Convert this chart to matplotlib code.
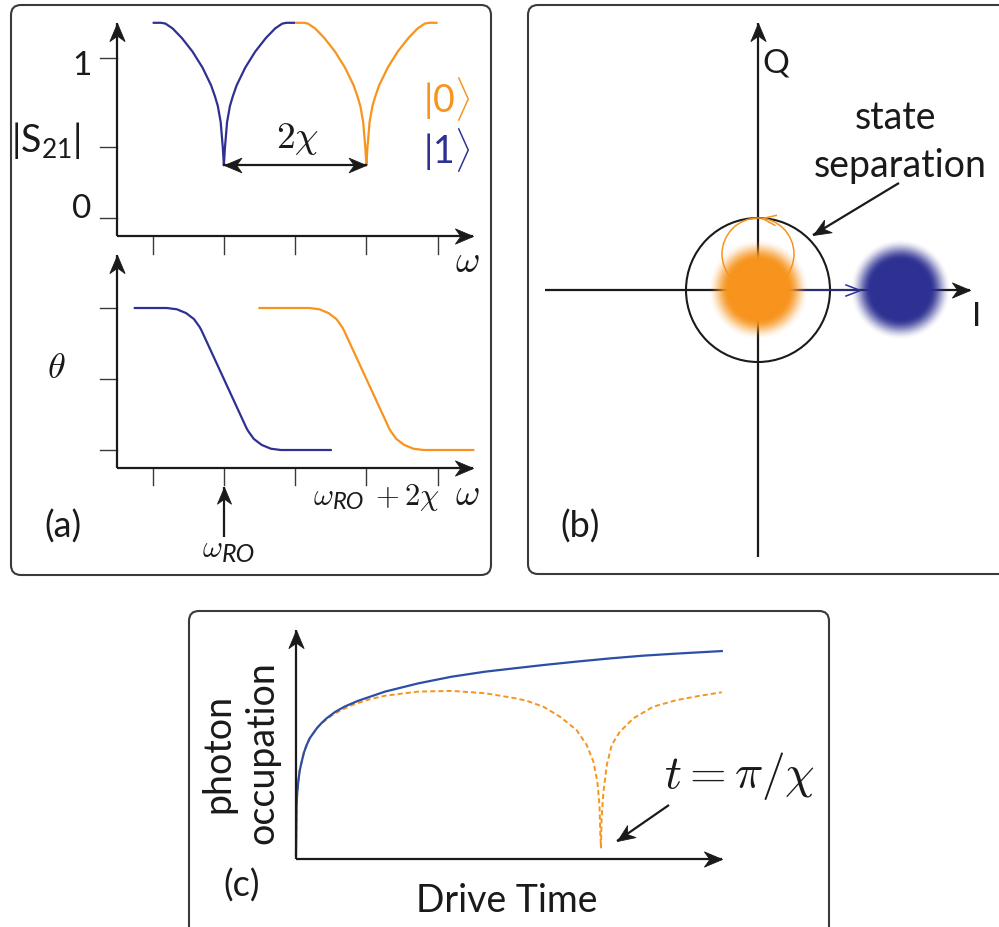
import numpy as np
import matplotlib
matplotlib.use('Agg')
import matplotlib.pyplot as plt
from matplotlib.patches import FancyBboxPatch, Circle
from matplotlib.markers import MarkerStyle
from matplotlib.path import Path
from matplotlib.transforms import Affine2D

W, H = 999, 927
plt.rcParams['font.family'] = ['Lato', 'DejaVu Sans']
plt.rcParams['mathtext.fontset'] = 'cm'
plt.rcParams['mathtext.rm'] = 'Lato'
plt.rcParams['mathtext.it'] = 'Lato:italic'
plt.rcParams['mathtext.sf'] = 'Lato'
plt.rcParams['mathtext.fallback'] = 'cm'

BLUE = '#2E3192'
ORANGE = '#F7941D'
BLUE_C = '#2D4EA6'
INK = '#1a1a1a'
GRAY = '#3a3a3a'

# ---------------- data ----------------
# (a) top: |S21| vs omega (tick units), state |1> (blue) and |0> (orange)
s21_blue_w = [0.50, 0.62, 0.68, 0.78, 0.91, 1.06, 1.20, 1.32, 1.375, 1.415, 1.455, 1.485, 1.50,
              1.515, 1.545, 1.585, 1.625, 1.68, 1.80, 1.94, 2.09, 2.22, 2.32, 2.38, 2.50]
s21_blue_v = [1.22, 1.22, 1.215, 1.185, 1.125, 1.04, 0.94, 0.83, 0.76, 0.70, 0.60, 0.44, 0.33,
              0.44, 0.60, 0.70, 0.76, 0.83, 0.94, 1.04, 1.125, 1.185, 1.215, 1.22, 1.22]
s21_orange_w = [2.50, 2.62, 2.68, 2.78, 2.91, 3.06, 3.20, 3.32, 3.375, 3.415, 3.455, 3.485, 3.50,
                3.515, 3.545, 3.585, 3.625, 3.68, 3.80, 3.94, 4.09, 4.22, 4.32, 4.38, 4.50]
s21_orange_v = s21_blue_v[:]
s21_ticks_y = [0.0, 0.444, 1.0]
omega_ticks = [0.5, 1.5, 2.5, 3.5, 4.5]
omega_ro = 1.5
two_chi = 2.0

# (a) bottom: phase theta
theta_blue_w = [0.25, 0.70, 0.84, 0.97, 1.08, 1.16, 1.185, 1.815, 1.84, 1.92, 2.03, 2.16, 2.30, 3.00]
theta_blue_v = [1.0, 1.0, 0.991, 0.964, 0.922, 0.866, 0.843, 0.157, 0.134, 0.078, 0.036, 0.009, 0.0, 0.0]
theta_orange_w = [2.00, 2.70, 2.84, 2.97, 3.08, 3.16, 3.185, 3.815, 3.84, 3.92, 4.03, 4.16, 4.30, 5.00]
theta_orange_v = theta_blue_v[:]
theta_ticks_y = [0.0, 0.5, 1.0]

# (b) IQ plane
blob_centers_I = [0.0, 1.97]
blob_centers_Q = [0.0, 0.0]
blob_colors = [ORANGE, BLUE]
sep_circle_r = 1.0
loop_center = (0.0, 0.5)
loop_r = 0.5
blue_vec_end = 1.42

# (c) photon occupation vs drive time (t in units of pi/chi)
occ_blue_t = [0.0, 0.001, 0.002, 0.004, 0.0075, 0.012, 0.0187, 0.026, 0.035, 0.045, 0.057, 0.070,
              0.084, 0.100, 0.128, 0.160, 0.204, 0.292, 0.401, 0.510,
              0.620, 0.718, 0.811, 0.920, 1.030, 1.139, 1.248, 1.396]
occ_blue_n = [0.017, 0.13, 0.236, 0.29, 0.338, 0.385, 0.425, 0.465, 0.498, 0.527, 0.550, 0.574,
              0.594, 0.614, 0.642, 0.666, 0.691, 0.731, 0.767, 0.796,
              0.818, 0.833, 0.847, 0.862, 0.876, 0.888, 0.897, 0.908]
occ_orange_t = [0.0, 0.001, 0.002, 0.004, 0.0075, 0.012, 0.0187, 0.026, 0.035, 0.045, 0.057, 0.070,
                0.084, 0.100, 0.128, 0.183, 0.240, 0.292, 0.401, 0.510,
                0.620, 0.718, 0.756, 0.811, 0.866, 0.920, 0.953, 0.975, 0.988, 0.995, 0.998, 1.0,
                1.002, 1.008, 1.019, 1.035, 1.062, 1.106, 1.171, 1.248, 1.325, 1.396]
occ_orange_n = [0.017, 0.13, 0.236, 0.29, 0.338, 0.385, 0.425, 0.465, 0.498, 0.527, 0.550, 0.573,
                0.592, 0.610, 0.636, 0.672, 0.697, 0.713, 0.731, 0.734,
                0.724, 0.702, 0.691, 0.665, 0.621, 0.563, 0.498, 0.425, 0.338, 0.236, 0.100, 0.05,
                0.178, 0.294, 0.410, 0.498, 0.556, 0.614, 0.665, 0.694, 0.713, 0.728]

# ---------------- figure ----------------
fig = plt.figure(figsize=(W / 100, H / 100), dpi=100)
bg = fig.add_axes([0, 0, 1, 1])
bg.set_xlim(0, W)
bg.set_ylim(H, 0)
bg.axis('off')


def panel_axes(px0, px1, py0, py1, fx, fy):
    ax = fig.add_axes([px0 / W, 1 - py1 / H, (px1 - px0) / W, (py1 - py0) / H])
    ax.set_xlim(fx(px0), fx(px1))
    ax.set_ylim(fy(py1), fy(py0))
    ax.axis('off')
    return ax


STEALTH = Path([(0, 0), (-1, 0.42), (-0.70, 0), (-1, -0.42), (0, 0)],
               [Path.MOVETO, Path.LINETO, Path.LINETO, Path.LINETO, Path.CLOSEPOLY])
CHEVRON = Path([(-1, 0.38), (0, 0), (-1, -0.38)], [Path.MOVETO, Path.LINETO, Path.LINETO])


def head(ax, x, y, ang, size=26, color=INK, path=STEALTH, filled=True, lw=1.2, z=5):
    m = MarkerStyle(path, transform=Affine2D().rotate_deg(ang))
    ax.plot([x], [y], marker=m, markersize=size, linestyle='none',
            mfc=color if filled else 'none', mec=color, mew=(0.6 if filled else lw),
            clip_on=False, zorder=z)


def arrow(ax, x0, y0, x1, y1, size=26, color=INK, lw=1.6, path=STEALTH, filled=True, z=5):
    ax.plot([x0, x1], [y0, y1], color=color, lw=lw, clip_on=False, zorder=z, solid_capstyle='butt')
    p0 = ax.transData.transform((x0, y0))
    p1 = ax.transData.transform((x1, y1))
    ang = np.degrees(np.arctan2(p1[1] - p0[1], p1[0] - p0[0]))
    head(ax, x1, y1, ang, size=size, color=color, path=path, filled=filled, lw=lw, z=z)


# boxes
for (x0, y0, x1, y1) in [(11, 5, 491, 575), (528, 5, 1010, 574), (189, 611, 829, 940)]:
    bg.add_patch(FancyBboxPatch((x0, y0), x1 - x0, y1 - y0,
                                boxstyle='round,pad=0,rounding_size=10',
                                fc='none', ec=GRAY, lw=1.5))

# ---------- panel (a) top ----------
fx_a = lambda p: (p - 117) / 71.25
fy_at = lambda p: (218 - p) / 160
axt = panel_axes(11, 491, 5, 245, fx_a, fy_at)
y_ax_t = fy_at(236)
arrow(axt, 0, y_ax_t, 0, fy_at(23))
arrow(axt, 0, y_ax_t, 5.0, y_ax_t)
for yt in s21_ticks_y:
    axt.plot([-0.24, 0], [yt, yt], color=GRAY, lw=1.0, clip_on=False)
for xt in omega_ticks:
    axt.plot([xt, xt], [y_ax_t, y_ax_t - 0.1125], color=GRAY, lw=1.0, clip_on=False)
axt.plot(s21_blue_w, s21_blue_v, color=BLUE, lw=1.6, clip_on=False, solid_capstyle='butt')
axt.plot(s21_orange_w, s21_orange_v, color=ORANGE, lw=1.6, clip_on=False, solid_capstyle='butt')
# 2 chi double arrow
ymin_dip = min(s21_blue_v)
axt.plot([omega_ro, omega_ro + two_chi], [ymin_dip, ymin_dip], color=INK, lw=1.6, clip_on=False)
head(axt, omega_ro, ymin_dip, 180, size=25)
head(axt, omega_ro + two_chi, ymin_dip, 0, size=25)

# ---------- panel (a) bottom ----------
fy_ab = lambda p: (450 - p) / 142
axb = panel_axes(11, 491, 245, 575, fx_a, fy_ab)
y_ax_b = fy_ab(468)
arrow(axb, 0, y_ax_b, 0, fy_ab(255))
arrow(axb, 0, y_ax_b, 5.0, y_ax_b)
for yt in theta_ticks_y:
    axb.plot([-0.24, 0], [yt, yt], color=GRAY, lw=1.0, clip_on=False)
for xt in omega_ticks:
    axb.plot([xt, xt], [y_ax_b, y_ax_b - 0.12], color=GRAY, lw=1.0, clip_on=False)
axb.plot(theta_blue_w, theta_blue_v, color=BLUE, lw=1.6, clip_on=False)
axb.plot(theta_orange_w, theta_orange_v, color=ORANGE, lw=1.6, clip_on=False)
arrow(axb, omega_ro, fy_ab(537), omega_ro, fy_ab(487), size=24)

# ---------- panel (b) ----------
fx_b = lambda p: (p - 758) / 72
fy_b = lambda p: (290 - p) / 72
axq = panel_axes(528, 999, 5, 574, fx_b, fy_b)
arrow(axq, 0, fy_b(557), 0, fy_b(23), z=2)
arrow(axq, fx_b(545), 0, fx_b(970), 0, z=2)
axq.add_patch(Circle((0, 0), sep_circle_r, fc='none', ec=INK, lw=1.5, zorder=3))
axq.add_patch(Circle(loop_center, loop_r, fc='none', ec=ORANGE, lw=1.1, zorder=3))
head(axq, 0.05, 0.997, 172, size=20, color=ORANGE, path=CHEVRON, filled=False, lw=1.1, z=3)
arrow(axq, 0, 0, blue_vec_end, 0, size=22, color=BLUE, lw=1.1, path=CHEVRON, filled=False, z=3)
# blurred blobs
R = 0.78
g = np.linspace(-R, R, 301)
GX, GY = np.meshgrid(g, g)
RR = np.hypot(GX, GY)
r0, r1 = 0.41, 0.70
alpha = np.clip((r1 - RR) / (r1 - r0), 0, 1)
alpha = alpha * alpha * (3 - 2 * alpha)
for cx, cy, col in zip(blob_centers_I, blob_centers_Q, blob_colors):
    rgba = np.zeros((g.size, g.size, 4))
    rgba[..., :3] = matplotlib.colors.to_rgb(col)
    rgba[..., 3] = alpha
    axq.imshow(rgba, extent=[cx - R, cx + R, cy - R, cy + R], origin='lower',
               interpolation='bilinear', zorder=4)
axq.set_xlim(fx_b(528), fx_b(999))
axq.set_ylim(fy_b(574), fy_b(5))
axq.set_aspect('auto')

# ---------- panel (c) ----------
fx_c = lambda p: (p - 296) / 305
fy_c = lambda p: (859 - p) / 229
axc = panel_axes(189, 829, 611, 927, fx_c, fy_c)
arrow(axc, 0, 0, 0, 1.0)
arrow(axc, 0, 0, fx_c(722), 0)
axc.plot(occ_orange_t, occ_orange_n, color=ORANGE, lw=1.4, ls=(0, (2.6, 1.6)), clip_on=False)
axc.plot(occ_blue_t, occ_blue_n, color=BLUE_C, lw=1.6, clip_on=False)

# ---------- annotation arrows (pixel frame) ----------
arrow(bg, 899, 183, 813, 235, size=25)
arrow(bg, 669, 805, 617, 841, size=25)

# ---------- texts ----------
def txt(s, x, y, size, ha='center', va='baseline', color=INK, mf=None, **kw):
    t = bg.text(x, y, s, fontsize=size, ha=ha, va=va, color=color, **kw)
    if mf:
        t.set_math_fontfamily(mf)
    return t

txt('1', 82, 75, 24)
txt('0', 82, 218, 24)
txt(r'$|\mathrm{S}_{21}|$', 46, 140, 27, va='center', mf='custom')
txt(r'$\omega$', 467, 272, 27)
txt(r'$\omega$', 467, 505, 27)
txt(r'$\theta$', 56, 378, 26)
txt(r'$\mathsf{2}\chi$', 298, 148, 27)
txt(r'$|\mathrm{0}\rangle$', 447, 112, 27, color=ORANGE, mf='custom')
txt(r'$|\mathrm{1}\rangle$', 447, 163, 27, color=BLUE, mf='custom')
# omega_RO + 2chi (tick label)
txt(r'$\omega$', 313, 505, 22, ha='left')
txt('RO', 333, 509, 17, ha='left', style='italic')
txt(r'$+$', 375, 505, 22, ha='left')
txt(r'$\mathsf{2}\chi$', 404, 505, 22, ha='left')
# omega_RO (arrow label)
txt(r'$\omega$', 202, 557, 22, ha='left')
txt('RO', 222, 562, 18, ha='left', style='italic')
txt('(a)', 63, 538, 26)
txt('(b)', 580, 538, 26)
txt('(c)', 242, 897, 26)
txt('Q', 776, 72, 24)
txt('I', 977, 326, 24)
txt('state', 896, 129, 27)
txt('separation', 900, 177, 27)
txt('photon', 218, 753, 27, va='center', rotation=90)
txt('occupation', 262, 753, 27, va='center', rotation=90)
txt('Drive Time', 507, 912, 27)
txt(r'$t=\pi/\chi$', 740, 788, 34)

fig.savefig('out.png', dpi=100)
